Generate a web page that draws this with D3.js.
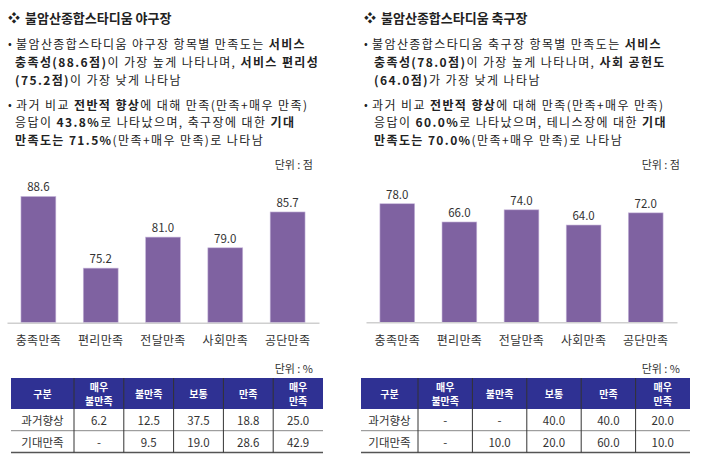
<!DOCTYPE html>
<html>
<head>
<meta charset="utf-8">
<script src="https://cdn.jsdelivr.net/npm/d3@7"></script>
<style>
  body { margin: 0; background: #fff; }
  svg { display: block; font-family: "Noto Sans CJK KR", sans-serif; }
</style>
</head>
<body>
<div class="canvas"></div>
<script>
// categories shared by both bar charts
const categories = ["충족만족", "편리만족", "전달만족", "사회만족", "공단만족"];
const baseballScores = [88.6, 75.2, 81.0, 79.0, 85.7];
const soccerScores = [78.0, 66.0, 74.0, 64.0, 72.0];

// table data
const tableHeaders = ["구분", "매우\n불만족", "불만족", "보통", "만족", "매우\n만족"];
const rowLabels = ["과거향상", "기대만족"];
const baseballTable = [["6.2", "12.5", "37.5", "18.8", "25.0"], ["-", "9.5", "19.0", "28.6", "42.9"]];
const soccerTable = [["-", "-", "40.0", "40.0", "20.0"], ["-", "10.0", "20.0", "60.0", "10.0"]];

// text blocks: each line is a list of [text, bold]
const baseballTitle = "불암산종합스타디움 야구장";
const baseballBullets = [
  [
    [["불암산종합스타디움 야구장 항목별 만족도는 ", false], ["서비스", true]],
    [["충족성(88.6점)", true], ["이 가장 높게 나타나며, ", false], ["서비스 편리성", true]],
    [["(75.2점)", true], ["이 가장 낮게 나타남", false]]
  ],
  [
    [["과거 비교 ", false], ["전반적 향상", true], ["에 대해 만족(만족+매우 만족)", false]],
    [["응답이 ", false], ["43.8%", true], ["로 나타났으며, 축구장에 대한 ", false], ["기대", true]],
    [["만족도는 71.5%", true], ["(만족+매우 만족)로 나타남", false]]
  ]
];
const soccerTitle = "불암산종합스타디움 축구장";
const soccerBullets = [
  [
    [["불암산종합스타디움 축구장 항목별 만족도는 ", false], ["서비스", true]],
    [["충족성(78.0점)", true], ["이 가장 높게 나타나며, ", false], ["사회 공헌도", true]],
    [["(64.0점)", true], ["가 가장 낮게 나타남", false]]
  ],
  [
    [["과거 비교 ", false], ["전반적 향상", true], ["에 대해 만족(만족+매우 만족)", false]],
    [["응답이 ", false], ["60.0%", true], ["로 나타났으며, 테니스장에 대한 ", false], ["기대", true]],
    [["만족도는 70.0%", true], ["(만족+매우 만족)로 나타남", false]]
  ]
];

const w = 704, h = 464;
const svg = d3.select(".canvas").append("svg").attr("width", w).attr("height", h);

const barColor = "#7f62a1";
const headColor = "#2f3193";
const textColor = "#333";

function drawText(g, title, bullets, opt) {
  g.append("text")
    .attr("x", opt.x).attr("y", 17)
    .attr("dominant-baseline", "central")
    .attr("font-size", 12).attr("fill", "#222")
    .text("❖");
  g.append("text")
    .attr("x", opt.x + 17).attr("y", 17)
    .attr("dominant-baseline", "central")
    .attr("font-size", 13).attr("font-weight", "bold").attr("fill", "#222")
    .text(title);

  const lineYs = [[43, 61, 79], [103.5, 121, 138.5]];
  bullets.forEach((b, bi) => {
    g.append("text")
      .attr("x", opt.x).attr("y", lineYs[bi][0])
      .attr("dominant-baseline", "central")
      .attr("font-size", 11).attr("fill", "#222")
      .text("•");
    b.forEach((line, li) => {
      const t = g.append("text")
        .attr("x", li === 0 ? opt.x + 8 : opt.x + opt.indent)
        .attr("y", lineYs[bi][li])
        .attr("dominant-baseline", "central")
        .attr("font-size", 12).attr("letter-spacing", 1.4).attr("fill", "#222");
      line.forEach(([s, bold]) => {
        t.append("tspan")
          .attr("font-weight", bold ? "bold" : "normal")
          .text(s);
      });
    });
  });
}

function drawBars(g, values, opt) {
  const x = d3.scaleBand()
    .domain(categories)
    .range(opt.xRange)
    .paddingInner(0.44)
    .paddingOuter(0.224);
  const y = d3.scaleLinear()
    .domain(opt.yDomain)
    .range([opt.base, opt.top]);

  g.append("text")
    .attr("x", opt.unitX).attr("y", 164)
    .attr("text-anchor", "end")
    .attr("dominant-baseline", "central")
    .attr("font-size", 11).attr("fill", textColor)
    .text("단위 : 점");

  g.selectAll("rect.bar")
    .data(values)
    .enter()
    .append("rect")
    .attr("class", "bar")
    .attr("x", (d, i) => x(categories[i]))
    .attr("width", x.bandwidth())
    .attr("y", d => y(d))
    .attr("height", d => opt.base - y(d))
    .attr("fill", barColor)
    .attr("stroke", "#c9b9dc")
    .attr("stroke-width", 0.6);

  g.selectAll("text.val")
    .data(values)
    .enter()
    .append("text")
    .attr("class", "val")
    .attr("x", (d, i) => x(categories[i]) + x.bandwidth() / 2)
    .attr("y", d => y(d) - 10)
    .attr("text-anchor", "middle")
    .attr("dominant-baseline", "central")
    .attr("font-size", 11.5).attr("fill", textColor)
    .text(d => d.toFixed(1));

  // x axis with category names
  const axis = g.append("g").attr("transform", `translate(0, ${opt.base})`)
    .call(d3.axisBottom(x).tickSize(0).tickPadding(14));
  axis.select(".domain").attr("stroke", "#cfcfcf").attr("stroke-width", 1.5);
  axis.selectAll("text").attr("font-size", 12).attr("fill", textColor)
    .attr("letter-spacing", 0.3)
    .attr("font-family", '"Noto Sans CJK KR", sans-serif');
}

function drawTable(g, rows, opt) {
  const cols = [opt.left, opt.left + opt.firstW];
  const restW = (opt.right - opt.left - opt.firstW) / 5;
  for (let i = 1; i <= 5; i++) cols.push(opt.left + opt.firstW + restW * i);
  const top = opt.top, headB = opt.top + 31, rowH = 21.7;

  g.append("text")
    .attr("x", opt.right - 10).attr("y", 368)
    .attr("text-anchor", "end")
    .attr("dominant-baseline", "central")
    .attr("font-size", 11).attr("fill", textColor)
    .text("단위 : %");

  g.append("rect")
    .attr("x", cols[0]).attr("y", top)
    .attr("width", cols[6] - cols[0]).attr("height", headB - top)
    .attr("fill", headColor);

  tableHeaders.forEach((hd, i) => {
    const cx = (cols[i] + cols[i + 1]) / 2;
    const parts = hd.split("\n");
    parts.forEach((p, pi) => {
      g.append("text")
        .attr("x", cx)
        .attr("y", (top + headB) / 2 + (pi - (parts.length - 1) / 2) * 14.6)
        .attr("text-anchor", "middle")
        .attr("dominant-baseline", "central")
        .attr("font-size", 10).attr("font-weight", "bold").attr("fill", "#fff")
        .text(p);
    });
  });

  rowLabels.forEach((lab, ri) => {
    const cy = headB + rowH * ri + rowH / 2;
    [lab].concat(rows[ri]).forEach((v, ci) => {
      g.append("text")
        .attr("x", (cols[ci] + cols[ci + 1]) / 2)
        .attr("y", cy)
        .attr("text-anchor", "middle")
        .attr("dominant-baseline", "central")
        .attr("font-size", 11.5).attr("fill", textColor)
        .text(v);
    });
    g.append("line")
      .attr("x1", cols[0]).attr("x2", cols[6])
      .attr("y1", headB + rowH * (ri + 1)).attr("y2", headB + rowH * (ri + 1))
      .attr("stroke", ri === rowLabels.length - 1 ? "#555" : "#888")
      .attr("stroke-width", ri === rowLabels.length - 1 ? 1.5 : 1);
  });

  const bottom = headB + rowH * rowLabels.length;
  cols.slice(1, 6).forEach(cx => {
    g.append("line")
      .attr("x1", cx).attr("x2", cx)
      .attr("y1", top).attr("y2", bottom)
      .attr("stroke", "#333").attr("stroke-width", 1);
  });
}

// left panel: baseball
const left = svg.append("g");
drawText(left, baseballTitle, baseballBullets, { x: 8, indent: 7 });
drawBars(left, baseballScores, {
  xRange: [7, 319], yDomain: [65, 90], base: 322.7, top: 322.7 - 25 * 5.35, unitX: 313
});
drawTable(left, baseballTable, { left: 11, right: 323, firstW: 63, top: 378 });

// right panel: soccer
const right = svg.append("g");
drawText(right, soccerTitle, soccerBullets, { x: 364, indent: 10 });
drawBars(right, soccerScores, {
  xRange: [366, 677], yDomain: [0, 100], base: 322.3, top: 322.3 - 152, unitX: 680
});
drawTable(right, soccerTable, { left: 361, right: 690, firstW: 57, top: 378 });
</script>
</body>
</html>
